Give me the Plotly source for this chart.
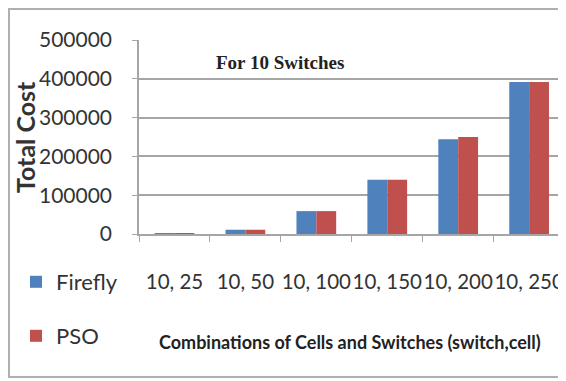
import plotly.graph_objects as go

categories = ["10, 25", "10, 50", "10, 100", "10, 150", "10, 200", "10, 250"]
firefly = [500, 11000, 59000, 140000, 244000, 392000]
pso = [500, 11000, 59000, 140000, 250000, 392000]
y_ticks = [0, 100000, 200000, 300000, 400000, 500000]

BLUE = "#4F81BD"
RED = "#C0504D"
FONT = "Lato"

# plot area (in page pixels): left 139, right 566, top 40, bottom 234
L, T, W, H = 139, 234, 427, 194
def px(sx):
    return (sx - L) / W
def py(sy):
    return (T - sy) / H

fig = go.Figure()
fig.add_trace(go.Bar(x=categories, y=firefly, name="Firefly", marker_color=BLUE,
                     marker_line_width=0, legend="legend"))
fig.add_trace(go.Bar(x=categories, y=pso, name="PSO", marker_color=RED,
                     marker_line_width=0, legend="legend2"))

fig.update_layout(
    width=558, height=373,
    margin=dict(l=131, r=0, t=32, b=147, autoexpand=False),
    paper_bgcolor="white", plot_bgcolor="white",
    barmode="group", bargap=0.44, bargroupgap=0,
    font=dict(family=FONT, color="#333333"),
    legend=dict(x=px(16), y=py(282), xanchor="left", yanchor="middle",
                font=dict(size=22, color="#333333"), bgcolor="rgba(0,0,0,0)"),
    legend2=dict(x=px(16), y=py(336), xanchor="left", yanchor="middle",
                 font=dict(size=22, color="#333333"), bgcolor="rgba(0,0,0,0)"),
    showlegend=True,
)

fig.update_xaxes(
    range=[-0.5, 5.52],
    showgrid=False,
    showline=True, linecolor="#a6a6a6", linewidth=1.5,
    ticks="outside", tickson="boundaries", ticklen=6, tickcolor="#a6a6a6",
    tickfont=dict(size=20.5, color="#333333"),
    tickangle=0,
    ticklabelstandoff=29,
    automargin=False,
)
fig.update_yaxes(
    range=[0, 500000],
    tickvals=y_ticks, ticktext=[str(v) for v in y_ticks],
    showgrid=True, gridcolor="#a6a6a6", gridwidth=1.5,
    showline=True, linecolor="#a6a6a6", linewidth=1.5,
    ticks="outside", ticklen=5, tickcolor="#a6a6a6",
    tickfont=dict(size=21, color="#333333"),
    ticklabelstandoff=16,
    zeroline=False,
    automargin=False,
)

fig.add_annotation(text="<b>For 10 Switches</b>", xref="paper", yref="paper",
                   x=px(280), y=py(62), showarrow=False,
                   font=dict(family="Liberation Serif", size=19, color="#222222"),
                   xanchor="center", yanchor="middle")
fig.add_annotation(text="<b>Total Cost</b>", xref="paper", yref="paper",
                   x=px(25), y=py(137), showarrow=False, borderpad=0,
                   textangle=-90, font=dict(family=FONT, size=25, color="#333333"),
                   xanchor="center", yanchor="middle")
fig.add_annotation(text="<b>Combinations of Cells and Switches (switch,cell)</b>",
                   xref="paper", yref="paper", x=px(350), y=py(342),
                   showarrow=False, font=dict(family=FONT, size=18, color="#222222"),
                   xanchor="center", yanchor="middle")

fig.add_shape(type="rect", xref="paper", yref="paper",
              x0=px(9), x1=px(565), y0=py(377), y1=py(9),
              line=dict(color="#b0b0b0", width=2), fillcolor="rgba(0,0,0,0)",
              layer="below")

fig.write_html("out.html")
